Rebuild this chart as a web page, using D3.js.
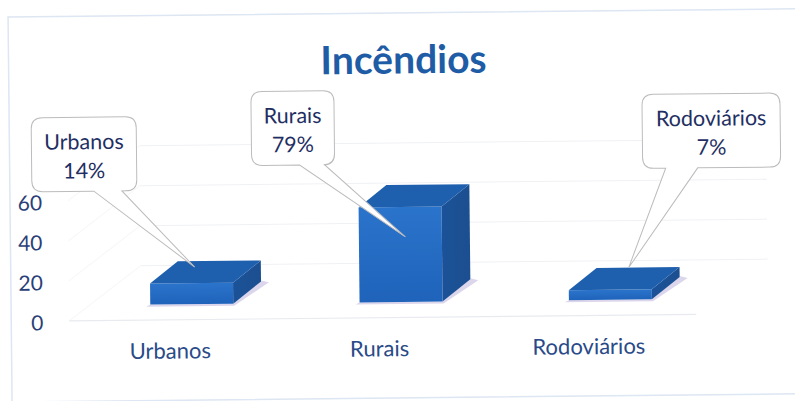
<!DOCTYPE html>
<html><head><meta charset="utf-8">
<style>html,body{margin:0;padding:0;background:#fff}svg{display:block}text{font-family:Lato,"Open Sans",sans-serif}</style>
<script src="https://cdn.jsdelivr.net/npm/d3@7"></script></head>
<body><svg id="c" width="795" height="401"></svg>
<script>
const titleText = "Incêndios";
const categories = ["Urbanos", "Rurais", "Rodoviários"];
const barValues = [10.5, 47.5, 5];
const percentLabels = ["14%", "79%", "7%"];
const axisTicks = [0, 20, 40, 60];

const W = 795, H = 401, tilt = -0.6, cx = 397, cy = 200;
const svg = d3.select("#c");
const defs = svg.append("defs");
const g1 = defs.append("linearGradient").attr("id","front").attr("x1",0).attr("y1",0).attr("x2",0).attr("y2",1);
g1.append("stop").attr("offset",0).attr("stop-color","#2b74cb");
g1.append("stop").attr("offset",1).attr("stop-color","#1f63bb");
const g2 = defs.append("linearGradient").attr("id","side").attr("x1",0).attr("y1",0).attr("x2",1).attr("y2",0);
g2.append("stop").attr("offset",0).attr("stop-color","#1b5298");
g2.append("stop").attr("offset",1).attr("stop-color","#1c4f90");

const root = svg.append("g").attr("transform",`rotate(${tilt} ${cx} ${cy})`);

// outer frame
root.append("rect").attr("x",10).attr("y",13).attr("width",800).attr("height",385)
  .attr("fill","none").attr("stroke","#dde6f3").attr("stroke-width",1.5);

// title
root.append("text").attr("x",405).attr("y",73.5).attr("text-anchor","middle")
  .attr("font-size",39).attr("font-weight",700).attr("fill","#1f5ca6").text(titleText);

// scales
const x = d3.scaleBand().domain(categories).range([64,692]);
const yFront = d3.scaleLinear().domain([0,60]).range([319.5,199.5]);
const yBack = d3.scaleLinear().domain([0,60]).range([263,143]);
const depthX = 72, wallRight = 767;
const h = d3.scaleLinear().domain([0,60]).range([0,120]);

// walls
const grid = root.append("g").attr("fill","none").attr("stroke","#f0f1f4").attr("stroke-width",1);
axisTicks.forEach(t=>{
  grid.append("line").attr("x1",68+depthX).attr("x2",wallRight).attr("y1",yBack(t)).attr("y2",yBack(t));
  grid.append("line").attr("x1",68).attr("x2",68+depthX).attr("y1",yFront(t)-2).attr("y2",yBack(t)).attr("stroke","#f6f7f9");
});
root.append("line").attr("x1",68).attr("x2",695).attr("y1",yFront(0)-2).attr("y2",yFront(0)-2)
  .attr("stroke","#e8eaef").attr("stroke-width",1.2);

// y axis
const ax = root.append("g").attr("transform","translate(44,0)")
  .call(d3.axisLeft(yFront).tickValues(axisTicks).tickSize(0).tickPadding(2));
ax.select(".domain").remove();
ax.selectAll("text").attr("font-size",21).attr("fill","#2a3f78").style("font-family","Lato,'Open Sans',sans-serif");

// x axis labels
const bx = root.append("g").attr("transform","translate(0,343)")
  .call(d3.axisBottom(x).tickSize(0).tickPadding(0));
bx.select(".domain").remove();
bx.selectAll("text").attr("font-size",22).attr("fill","#2a4a88").style("font-family","Lato,'Open Sans',sans-serif").attr("dy","0.6em");

// bars
const barW = 83, dX = 28, dY = 22, baseY = 302;
const barX = c => x(c) + x.bandwidth()/2 - barW/2 + 22;
const poly = p => p.map(q=>q.join(",")).join(" ");
const bars = root.append("g").selectAll("g").data(categories).join("g");
bars.append("polygon").attr("fill","#dcd6ec").attr("points",c=>{
  const l=barX(c), r=l+barW;
  return poly([[l-4,baseY+2],[r+1,baseY+2],[r+dX+8,baseY-dY+1],[r+dX,baseY-dY-1],[r,baseY],[l,baseY]]);
});
bars.append("polygon").attr("fill","url(#front)").attr("points",(c,i)=>{
  const l=barX(c), t=baseY-h(barValues[i]);
  return poly([[l,baseY],[l+barW,baseY],[l+barW,t],[l,t]]);
});
bars.append("polygon").attr("fill","url(#side)").attr("points",(c,i)=>{
  const r=barX(c)+barW, t=baseY-h(barValues[i]);
  return poly([[r,baseY],[r+dX,baseY-dY],[r+dX,t-dY],[r,t]]);
});
bars.append("polygon").attr("fill","#1e5fae").attr("points",(c,i)=>{
  const l=barX(c), t=baseY-h(barValues[i]);
  return poly([[l,t],[l+barW,t],[l+barW+dX,t-dY],[l+dX,t-dY]]);
});

// callouts: box, tail base on the bottom edge, tail tip
const boxes = [
  {x:32,y:114,w:105,h:74,a:62,b:90,tx:100,ty:77},
  {x:252,y:90,w:83,h:74,a:48,b:73,tx:105,ty:73},
  {x:643,y:97,w:138,h:74,a:23,b:55,tx:-38,ty:99}
];
const r=11;
const call = root.append("g").selectAll("g").data(categories).join("g")
  .attr("transform",(c,i)=>`translate(${boxes[i].x},${boxes[i].y})`);
call.append("path").attr("fill","#fff").attr("stroke","#bcbcbe").attr("stroke-width",1)
  .attr("d",(c,i)=>{
    const b=boxes[i];
    return `M${r},0H${b.w-r}Q${b.w},0 ${b.w},${r}V${b.h-r}Q${b.w},${b.h} ${b.w-r},${b.h}H${b.b}L${b.a+b.tx},${b.h+b.ty}L${b.a},${b.h}H${r}Q0,${b.h} 0,${b.h-r}V${r}Q0,0 ${r},0Z`;
  });
call.append("text").attr("x",(c,i)=>boxes[i].w/2).attr("y",32).attr("text-anchor","middle")
  .attr("font-size",21.5).attr("fill","#1f2f63").text(c=>c);
call.append("text").attr("x",(c,i)=>boxes[i].w/2).attr("y",61).attr("text-anchor","middle")
  .attr("font-size",21.5).attr("fill","#1f2f63").text((c,i)=>percentLabels[i]);
</script></body></html>
